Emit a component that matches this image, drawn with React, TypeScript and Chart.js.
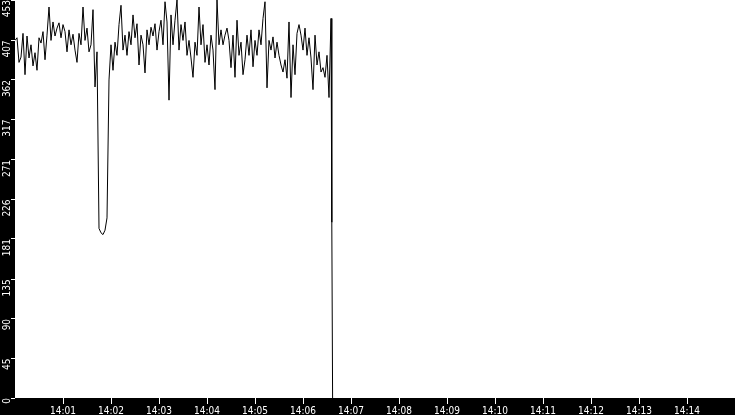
import { useEffect, useRef } from "react";
import { Chart, registerables } from "chart.js";

Chart.register(...registerables);

// one reading every 2.5 s starting at 14:00:00
const sampleStep = 2.5;
const signal = [
  407, 410, 382, 388, 415, 368, 412, 387, 402, 378,
  393, 373, 410, 404, 417, 385, 413, 445, 407, 428,
  412, 421, 427, 410, 425, 417, 394, 419, 402, 414,
  396, 382, 415, 402, 445, 407, 421, 394, 402, 442,
  354, 394, 193, 188, 186, 191, 205, 362, 402, 373,
  405, 390, 425, 447, 396, 413, 390, 417, 402, 436,
  410, 426, 379, 413, 402, 370, 419, 402, 422, 412,
  426, 396, 417, 430, 402, 451, 428, 339, 436, 402,
  430, 453, 396, 425, 407, 428, 390, 407, 387, 365,
  405, 390, 445, 402, 425, 382, 402, 379, 413, 396,
  351, 453, 402, 419, 402, 413, 421, 407, 376, 413,
  365, 430, 390, 405, 368, 385, 413, 390, 419, 377,
  407, 390, 419, 402, 432, 451, 353, 407, 396, 411,
  387, 405, 390, 379, 371, 385, 364, 428, 342, 402,
  368, 415, 425, 413, 396, 421, 390, 410, 387, 351,
  413, 379, 394, 371, 376, 365, 390, 342, 432,
];
// the feed drops out right after 14:06:35
const tailSeconds = [396, 397];
const tailValues = [200, 0];

const yTicks = [0, 45, 90, 135, 181, 226, 271, 317, 362, 407, 453];
const xTickSeconds = [60, 120, 180, 240, 300, 360, 420, 480, 540, 600, 660, 720, 780, 840];
const xTickLabels = [
  "14:01", "14:02", "14:03", "14:04", "14:05", "14:06", "14:07",
  "14:08", "14:09", "14:10", "14:11", "14:12", "14:13", "14:14",
];

const tickFont = { family: "'DejaVu Sans Condensed', 'DejaVu Sans', sans-serif", size: 10 };

const backdrop = {
  id: "backdrop",
  beforeDraw(chart: Chart) {
    const { ctx, chartArea, width, height } = chart;
    ctx.save();
    ctx.fillStyle = "#000";
    ctx.fillRect(0, 0, width, height);
    ctx.fillStyle = "#fff";
    ctx.fillRect(
      chartArea.left,
      chartArea.top,
      chartArea.right - chartArea.left,
      chartArea.bottom - chartArea.top
    );
    ctx.restore();
  },
};

export default function App() {
  const canvasRef = useRef<HTMLCanvasElement>(null);

  useEffect(() => {
    if (!canvasRef.current) return;

    const points = signal.map((v, i) => ({ x: i * sampleStep, y: v }));
    tailSeconds.forEach((t, i) => points.push({ x: t, y: tailValues[i] }));

    const chart = new Chart(canvasRef.current, {
      type: "line",
      data: {
        datasets: [
          {
            data: points,
            borderColor: "#000",
            borderWidth: 1,
            pointRadius: 0,
            tension: 0,
            fill: false,
          },
        ],
      },
      plugins: [backdrop],
      options: {
        animation: false,
        responsive: true,
        maintainAspectRatio: false,
        layout: { padding: 0 },
        plugins: { legend: { display: false }, tooltip: { enabled: false } },
        scales: {
          x: {
            type: "linear",
            min: 0,
            max: 900,
            afterBuildTicks: (s: any) => {
              s.ticks = xTickSeconds.map((v) => ({ value: v }));
            },
            afterFit: (s: any) => {
              s.height = 17;
              s.paddingLeft = 0;
              s.paddingRight = 0;
            },
            ticks: {
              callback: (_v: any, i: number) => xTickLabels[i],
              color: "#fff",
              font: tickFont,
              padding: 1,
              autoSkip: false,
              maxRotation: 0,
            },
            grid: { drawOnChartArea: false, tickLength: 6, tickColor: "#fff", color: "#fff" },
            border: { display: false },
          },
          y: {
            type: "linear",
            min: 0,
            max: 453,
            afterBuildTicks: (s: any) => {
              s.ticks = yTicks.map((v) => ({ value: v }));
            },
            afterFit: (s: any) => {
              s.width = 15;
              s.paddingTop = 0;
              s.paddingBottom = 0;
            },
            ticks: {
              callback: (_v: any, i: number) => String(yTicks[i]),
              color: "#fff",
              font: tickFont,
              padding: 4,
              autoSkip: false,
              minRotation: 90,
              maxRotation: 90,
            },
            grid: { drawOnChartArea: false, tickLength: 4, tickColor: "#fff", color: "#fff" },
            border: { display: false },
          },
        },
      },
    });

    return () => chart.destroy();
  }, []);

  return (
    <div style={{ position: "absolute", left: 0, top: 0, width: 735, height: 415 }}>
      <canvas ref={canvasRef} />
    </div>
  );
}
